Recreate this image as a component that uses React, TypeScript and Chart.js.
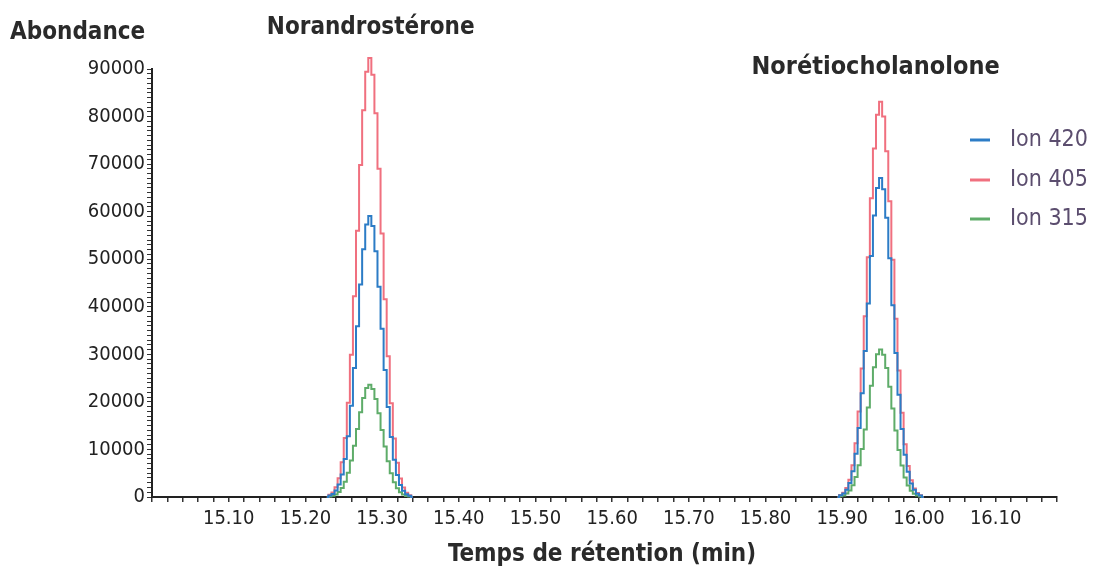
import React, { useEffect, useRef } from "react";
import { Chart, registerables } from "chart.js";

Chart.register(...registerables);

const X_MIN = 15.0;
const X_MAX = 16.18;
const Y_MAX = 90000;
const GAP_TIME = 15.6;

const peak1Times = [15.228, 15.232, 15.236, 15.24, 15.244, 15.248, 15.252, 15.256, 15.26, 15.264, 15.268, 15.272, 15.276, 15.28, 15.284, 15.288, 15.292, 15.296, 15.3, 15.304, 15.308, 15.312, 15.316, 15.32, 15.324, 15.328, 15.332, 15.336, 15.34];
const peak2Times = [15.894, 15.898, 15.902, 15.906, 15.91, 15.914, 15.918, 15.922, 15.926, 15.93, 15.934, 15.938, 15.942, 15.946, 15.95, 15.954, 15.958, 15.962, 15.966, 15.97, 15.974, 15.978, 15.982, 15.986, 15.99, 15.994, 15.998, 16.002, 16.006];

const ion420Peak1 = [0, 300, 650, 1350, 2650, 4750, 8000, 12800, 19200, 27100, 35900, 44700, 52100, 57300, 59100, 57000, 51700, 44200, 35400, 26700, 18900, 12600, 7850, 4600, 2500, 1300, 600, 250, 0];
const ion405Peak1 = [0, 450, 950, 2050, 3950, 7300, 12400, 19800, 29900, 42200, 56000, 69800, 81300, 89400, 92300, 88800, 80700, 69000, 55400, 41600, 29600, 19700, 12300, 7200, 3900, 2000, 900, 380, 0];
const ion315Peak1 = [0, 100, 250, 540, 1030, 1900, 3200, 5100, 7700, 10800, 14300, 17800, 20800, 22900, 23600, 22700, 20600, 17600, 14100, 10600, 7500, 5000, 3100, 1850, 980, 500, 220, 100, 0];

const ion420Peak2 = [0, 350, 750, 1550, 2950, 5400, 9100, 14500, 21800, 30700, 40700, 50700, 59200, 65000, 67100, 64700, 58700, 50200, 40300, 30300, 21500, 14300, 8900, 5300, 2850, 1500, 700, 300, 0];
const ion405Peak2 = [0, 400, 900, 1900, 3650, 6700, 11300, 18000, 27000, 38000, 50400, 62800, 73300, 80400, 83100, 80000, 72700, 62200, 49900, 37500, 26600, 17700, 11100, 6500, 3500, 1800, 850, 350, 0];
const ion315Peak2 = [0, 150, 340, 710, 1360, 2480, 4180, 6700, 10100, 14200, 18800, 23400, 27300, 30000, 31000, 29900, 27100, 23200, 18600, 14000, 9900, 6600, 4100, 2400, 1300, 670, 300, 130, 0];

const seriesNames = ["Ion 420", "Ion 405", "Ion 315"];
const seriesColors = ["#2c7cc6", "#f0707f", "#5eac69"];
const peakNames = ["Norandrostérone", "Norétiocholanolone"];
const peakLabelTimes = [15.28, 15.95];
const yTitle = "Abondance";
const xTitle = "Temps de rétention (min)";

const NARROW = "'Liberation Sans Narrow', 'DejaVu Sans Condensed', 'Arial Narrow', sans-serif";

function buildSeries(p1: number[], p2: number[]) {
  const pts: { x: number; y: number | null }[] = [];
  peak1Times.forEach((t, i) => pts.push({ x: t, y: p1[i] }));
  pts.push({ x: GAP_TIME, y: null });
  peak2Times.forEach((t, i) => pts.push({ x: t, y: p2[i] }));
  return pts;
}

const textPlugin = {
  id: "texts",
  afterDraw(chart: any) {
    const ctx = chart.ctx;
    const xs = chart.scales.x;
    ctx.save();
    ctx.fillStyle = "#2a2a2a";
    ctx.textBaseline = "middle";
    ctx.font = `bold 24px ${NARROW}`;
    ctx.textAlign = "left";
    ctx.fillText(yTitle, 10, 33);
    ctx.textAlign = "center";
    ctx.font = `bold 24px ${NARROW}`;
    ctx.fillText(peakNames[0], xs.getPixelForValue(peakLabelTimes[0]) + 4, 28);
    ctx.font = `bold 25px ${NARROW}`;
    ctx.fillText(peakNames[1], xs.getPixelForValue(peakLabelTimes[1]) - 5, 67);
    ctx.font = `bold 24px ${NARROW}`;
    ctx.fillText(xTitle, 602, 555);
    // legend
    const rows = [140, 180, 219];
    ctx.font = `23px ${NARROW}`;
    ctx.textAlign = "left";
    seriesNames.forEach((n, i) => {
      ctx.strokeStyle = seriesColors[i];
      ctx.lineWidth = 3;
      ctx.beginPath();
      ctx.moveTo(970, rows[i]);
      ctx.lineTo(990, rows[i]);
      ctx.stroke();
      ctx.fillStyle = "#5b4d6e";
      ctx.fillText(n, 1010, rows[i]);
    });
    ctx.restore();
  },
};

export default function App() {
  const ref = useRef<HTMLCanvasElement | null>(null);
  useEffect(() => {
    document.body.style.margin = "0";
    const datasets = [
      buildSeries(ion420Peak1, ion420Peak2),
      buildSeries(ion405Peak1, ion405Peak2),
      buildSeries(ion315Peak1, ion315Peak2),
    ].map((d, i) => ({
      label: seriesNames[i],
      data: d,
      borderColor: seriesColors[i],
      backgroundColor: seriesColors[i],
      borderWidth: 2,
      pointRadius: 0,
      stepped: "middle" as const,
      fill: false,
      spanGaps: false,
      clip: false as any,
    }));
    const chart = new Chart(ref.current!, {
      type: "line",
      data: { datasets },
      plugins: [textPlugin],
      options: {
        animation: false,
        responsive: true,
        maintainAspectRatio: false,
        layout: { padding: { top: 69, right: 40, left: 0, bottom: 0 } },
        plugins: { legend: { display: false }, tooltip: { enabled: false } },
        scales: {
          x: {
            type: "linear",
            min: X_MIN,
            max: X_MAX,
            afterFit: (s: any) => { s.height = 76; },
            border: { color: "#222", width: 2 },
            grid: { drawOnChartArea: false, drawTicks: true, tickLength: 5, color: "#333", lineWidth: 1.5 },
            ticks: {
              stepSize: 0.02,
              autoSkip: false,
              maxRotation: 0,
              padding: 5,
              color: "#222",
              font: { family: NARROW, size: 20 },
              callback: (v: any) => {
                const n = Math.round(Number(v) * 100);
                if (n % 10 === 0 && n >= 1510 && n <= 1610) return (n / 100).toFixed(2);
                return "";
              },
            },
          },
          y: {
            min: 0,
            max: Y_MAX,
            afterFit: (s: any) => { s.width = 152; },
            border: { color: "#222", width: 2 },
            grid: { drawOnChartArea: false, drawTicks: true, tickLength: 5, color: "#333", lineWidth: 1 },
            ticks: {
              stepSize: 1000,
              autoSkip: false,
              padding: 2,
              color: "#222",
              font: { family: NARROW, size: 20 },
              callback: (v: any) => (Number(v) % 10000 === 0 ? String(v) : ""),
            },
          },
        },
      },
    });
    return () => chart.destroy();
  }, []);
  return (
    <div style={{ width: 1097, height: 573, position: "relative" }}>
      <canvas ref={ref} />
    </div>
  );
}
